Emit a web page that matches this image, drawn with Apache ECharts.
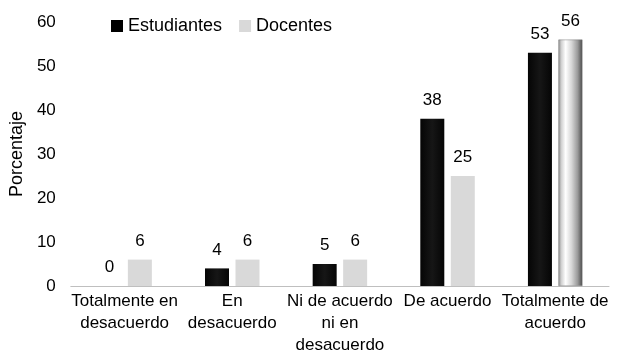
<!DOCTYPE html>
<html><head><meta charset="utf-8">
<script src="https://cdn.jsdelivr.net/npm/echarts@6/dist/echarts.min.js"></script>
<style>html,body{margin:0;padding:0;background:#fff}#c{width:627px;height:356px}</style>
</head><body><div id="c"></div>
<script>
var categories = ['Totalmente en\ndesacuerdo', 'En\ndesacuerdo', 'Ni de acuerdo\nni en\ndesacuerdo', 'De acuerdo', 'Totalmente de\nacuerdo'];
var estudiantes = [0, 4, 5, 38, 53];
var docentes = [6, 6, 6, 25, 56];
var yTicks = [0, 10, 20, 30, 40, 50, 60];

var font = 'Liberation Sans, Arial, sans-serif';
var chart = echarts.init(document.getElementById('c'), null, {renderer: 'canvas'});

var blackFill = {type: 'linear', x: 0, y: 0, x2: 1, y2: 0, colorStops: [
  {offset: 0, color: '#050505'}, {offset: 0.5, color: '#161616'}, {offset: 1, color: '#050505'}]};
var metalFill = {type: 'linear', x: 0, y: 0, x2: 1, y2: 0, colorStops: [
  {offset: 0, color: '#8a8a8a'}, {offset: 0.12, color: '#d0d0d0'}, {offset: 0.3, color: '#ffffff'},
  {offset: 0.55, color: '#d6d6d6'}, {offset: 0.8, color: '#9a9a9a'}, {offset: 1, color: '#4a4a4a'}]};

var docData = docentes.map(function (v, i) {
  return i === docentes.length - 1 ? {value: v, itemStyle: {color: metalFill, borderColor: '#7a7a7a', borderWidth: 0.5}} : v;
});

chart.setOption({
  animation: false,
  textStyle: {fontFamily: font},
  legend: {
    top: 12, left: 106, itemWidth: 12, itemHeight: 12, itemGap: 17, icon: 'rect',
    textStyle: {fontSize: 18, color: '#000', fontFamily: font},
    data: [
      {name: 'Estudiantes', itemStyle: {color: '#000'}},
      {name: 'Docentes', itemStyle: {color: '#d9d9d9'}}]
  },
  grid: {left: 69, right: 18, top: 22, bottom: 68, containLabel: false},
  xAxis: {
    type: 'category', data: categories,
    axisLine: {lineStyle: {color: '#bfbfbf', width: 1}},
    axisTick: {show: false},
    axisLabel: {color: '#000', fontSize: 17, fontFamily: font, lineHeight: 22, margin: 4, interval: 0}
  },
  yAxis: {
    type: 'value', min: yTicks[0], max: yTicks[yTicks.length - 1], interval: 10,
    name: 'Porcentaje', nameLocation: 'middle', nameGap: 39,
    nameTextStyle: {color: '#000', fontSize: 18, fontFamily: font},
    axisLine: {show: false}, axisTick: {show: false}, splitLine: {show: false},
    axisLabel: {color: '#000', fontSize: 17, fontFamily: font, margin: 15}
  },
  series: [
    {name: 'Estudiantes', type: 'bar', data: estudiantes, barWidth: 24, barGap: '27%',
     itemStyle: {color: blackFill},
     label: {show: true, position: 'top', distance: 10, color: '#000', fontSize: 17, fontFamily: font}},
    {name: 'Docentes', type: 'bar', data: docData, barWidth: 24,
     itemStyle: {color: '#d9d9d9'},
     label: {show: true, position: 'top', distance: 10, color: '#000', fontSize: 17, fontFamily: font}}
  ]
});
</script></body></html>
